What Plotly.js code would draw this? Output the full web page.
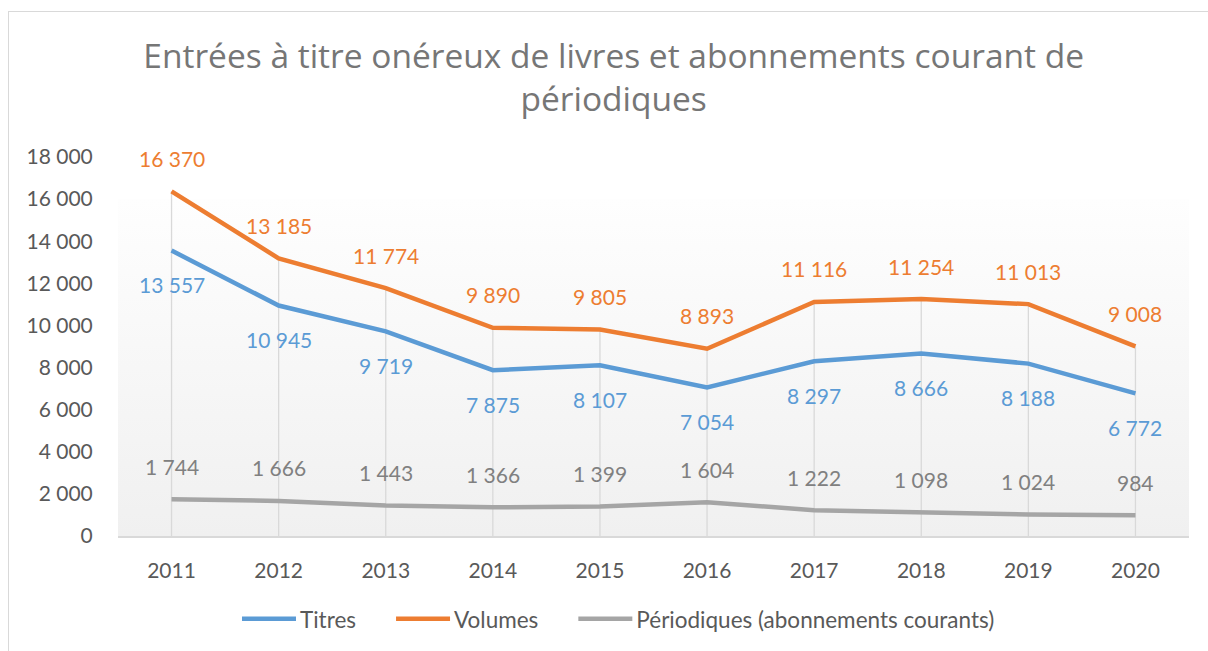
<!DOCTYPE html>
<html>
<head>
<meta charset="utf-8">
<script src="https://cdn.plot.ly/plotly-3.0.1.min.js"></script>
<style>
  html, body { margin: 0; padding: 0; background: #ffffff; overflow: hidden; }
  #wrap { position: relative; width: 1208px; height: 651px; }
  #frame { position: absolute; left: 8px; top: 11px; width: 1400px; height: 900px;
           border: 1.5px solid #d9d9d9; box-sizing: border-box; }
  #chart { position: absolute; left: 0; top: 0; width: 1208px; height: 651px; }
</style>
</head>
<body>
<div id="wrap">
  <div id="frame"></div>
  <div id="chart"></div>
</div>
<script>
const years = ['2011','2012','2013','2014','2015','2016','2017','2018','2019','2020'];
const titres = [13557, 10945, 9719, 7875, 8107, 7054, 8297, 8666, 8188, 6772];
const volumes = [16370, 13185, 11774, 9890, 9805, 8893, 11116, 11254, 11013, 9008];
const periodiques = [1744, 1666, 1443, 1366, 1399, 1604, 1222, 1098, 1024, 984];
const seriesNames = ['Titres', 'Volumes', 'Périodiques (abonnements courants)'];
const yTicks = [0, 2000, 4000, 6000, 8000, 10000, 12000, 14000, 16000, 18000];
const yMax = 18000;
const shadeTop = 16000;

const colors = { titres: '#5b9bd5', volumes: '#ed7d31', periodiques: '#a5a5a5' };
const labelColors = { titres: '#5b9bd5', volumes: '#ed7d31', periodiques: '#808080' };
const FONT = 'Lato, "Open Sans", sans-serif';
const TITLE_FONT = '"Open Sans", Lato, sans-serif';
const LEGEND_SAMPLE = 54;    // legend line sample length (px)
const LEGEND_SAMPLE_GAP = 4; // space between sample and text (px)
const LEGEND_EXTRA_GAP = 30; // extra space between legend entries (px)

function fmt(v) { return String(v).replace(/\B(?=(\d{3})+(?!\d))/g, ' '); }

// drop lines from the highest point of each category to the axis
const dropX = [], dropY = [];
years.forEach((yr, i) => {
  dropX.push(yr, yr, null);
  dropY.push(0, Math.max(titres[i], volumes[i], periodiques[i]), null);
});

const traces = [
  { x: dropX, y: dropY, mode: 'lines', line: { color: '#d9d9d9', width: 1.3 },
    showlegend: false, hoverinfo: 'skip' },
  { x: years, y: titres, name: seriesNames[0], mode: 'lines',
    line: { color: colors.titres, width: 4.5 } },
  { x: years, y: volumes, name: seriesNames[1], mode: 'lines',
    line: { color: colors.volumes, width: 4.5 } },
  { x: years, y: periodiques, name: seriesNames[2], mode: 'lines',
    line: { color: colors.periodiques, width: 4.5 } }
];

const annotations = [];
function addLabels(vals, color, shift) {
  vals.forEach((v, i) => {
    // category axis: use the category's serial index
    annotations.push({ x: i, y: v, xref: 'x', yref: 'y', text: fmt(v),
      showarrow: false, yshift: shift, font: { family: FONT, size: 21, color: color } });
  });
}
addLabels(volumes, labelColors.volumes, 33);
addLabels(titres, labelColors.titres, -34);
addLabels(periodiques, labelColors.periodiques, 33);

const svg = "<svg xmlns='http://www.w3.org/2000/svg' width='100' height='100' viewBox='0 0 100 100' preserveAspectRatio='none'>" +
  "<defs><linearGradient id='g' x1='0' y1='0' x2='0' y2='1'>" +
  "<stop offset='0' stop-color='#fefefe'/><stop offset='1' stop-color='#f0f0f0'/>" +
  "</linearGradient></defs><rect x='0' y='0' width='100' height='100' fill='url(#g)'/></svg>";

const layout = {
  width: 1208, height: 651,
  margin: { l: 118, r: 19, t: 157, b: 115 },
  paper_bgcolor: 'rgba(0,0,0,0)',
  plot_bgcolor: 'rgba(0,0,0,0)',
  separators: ', ',
  font: { family: FONT, color: '#595959', size: 21 },
  title: {
    text: 'Entrées à titre onéreux de livres et abonnements courant de<br>périodiques',
    font: { family: TITLE_FONT, size: 33.5, color: '#767676' },
    x: 0.508, xref: 'container', xanchor: 'center',
    y: 0.896, yref: 'container', yanchor: 'top'
  },
  xaxis: {
    type: 'category', range: [-0.5, 9.5],
    showgrid: false, zeroline: false,
    showline: true, linecolor: '#d9d9d9', linewidth: 2,
    ticks: 'outside', ticklen: 15, tickcolor: 'rgba(0,0,0,0)',
    tickfont: { family: FONT, size: 21, color: '#595959' }
  },
  yaxis: {
    range: [0, yMax], tickvals: yTicks, tickformat: ',d',
    showgrid: false, zeroline: false, showline: false,
    ticks: 'outside', ticklen: 20, tickcolor: 'rgba(0,0,0,0)',
    tickfont: { family: FONT, size: 21, color: '#595959' }
  },
  legend: {
    orientation: 'h', xref: 'container', yref: 'container',
    x: 0.512, xanchor: 'center', y: 0.049, yanchor: 'middle',
    font: { family: FONT, size: 22.5, color: '#595959' },
    itemwidth: 53, tracegroupgap: 0
  },
  images: [{
    source: 'data:image/svg+xml;charset=utf-8,' + encodeURIComponent(svg),
    xref: 'paper', yref: 'y', x: 0, y: shadeTop, sizex: 1, sizey: shadeTop,
    xanchor: 'left', yanchor: 'top', sizing: 'stretch', layer: 'below'
  }],
  annotations: annotations,
  showlegend: true,
  hovermode: false
};

Plotly.newPlot('chart', traces, layout, { displayModeBar: false, staticPlot: true }).then(gd => {
  // let legend entries draw outside the computed legend box
  gd.querySelectorAll('.legend, .legend *').forEach(el => el.removeAttribute('clip-path'));
  const items = gd.querySelectorAll('.legend .traces');
  const n = items.length;
  items.forEach((el, i) => {
    // lengthen the line sample so it ends just before the text
    const text = el.querySelector('text.legendtext');
    el.querySelectorAll('.legendlines path').forEach(p => {
      if (!text) return;
      const d = p.getAttribute('d') || '';
      const m0 = d.match(/M\s*([-\d.]+)\s*,\s*([-\d.]+)/);
      if (!m0) return;
      const localX = parseFloat(m0[1]);
      const pr = p.getBoundingClientRect();
      const tr = text.getBoundingClientRect();
      const wanted = tr.left - LEGEND_SAMPLE_GAP - LEGEND_SAMPLE;
      const newX = localX + (wanted - pr.left);
      p.setAttribute('d', 'M' + newX + ',' + m0[2] + 'h' + LEGEND_SAMPLE);
    });
    // widen spacing between entries, keeping the block centred
    const t = el.getAttribute('transform') || '';
    const m = t.match(/translate\(\s*([-\d.]+)[ ,]+([-\d.]+)\s*\)/);
    if (m) {
      const x = parseFloat(m[1]) + (i - (n - 1) / 2) * LEGEND_EXTRA_GAP;
      el.setAttribute('transform', 'translate(' + x + ',' + m[2] + ')');
    }
  });
});
</script>
</body>
</html>
